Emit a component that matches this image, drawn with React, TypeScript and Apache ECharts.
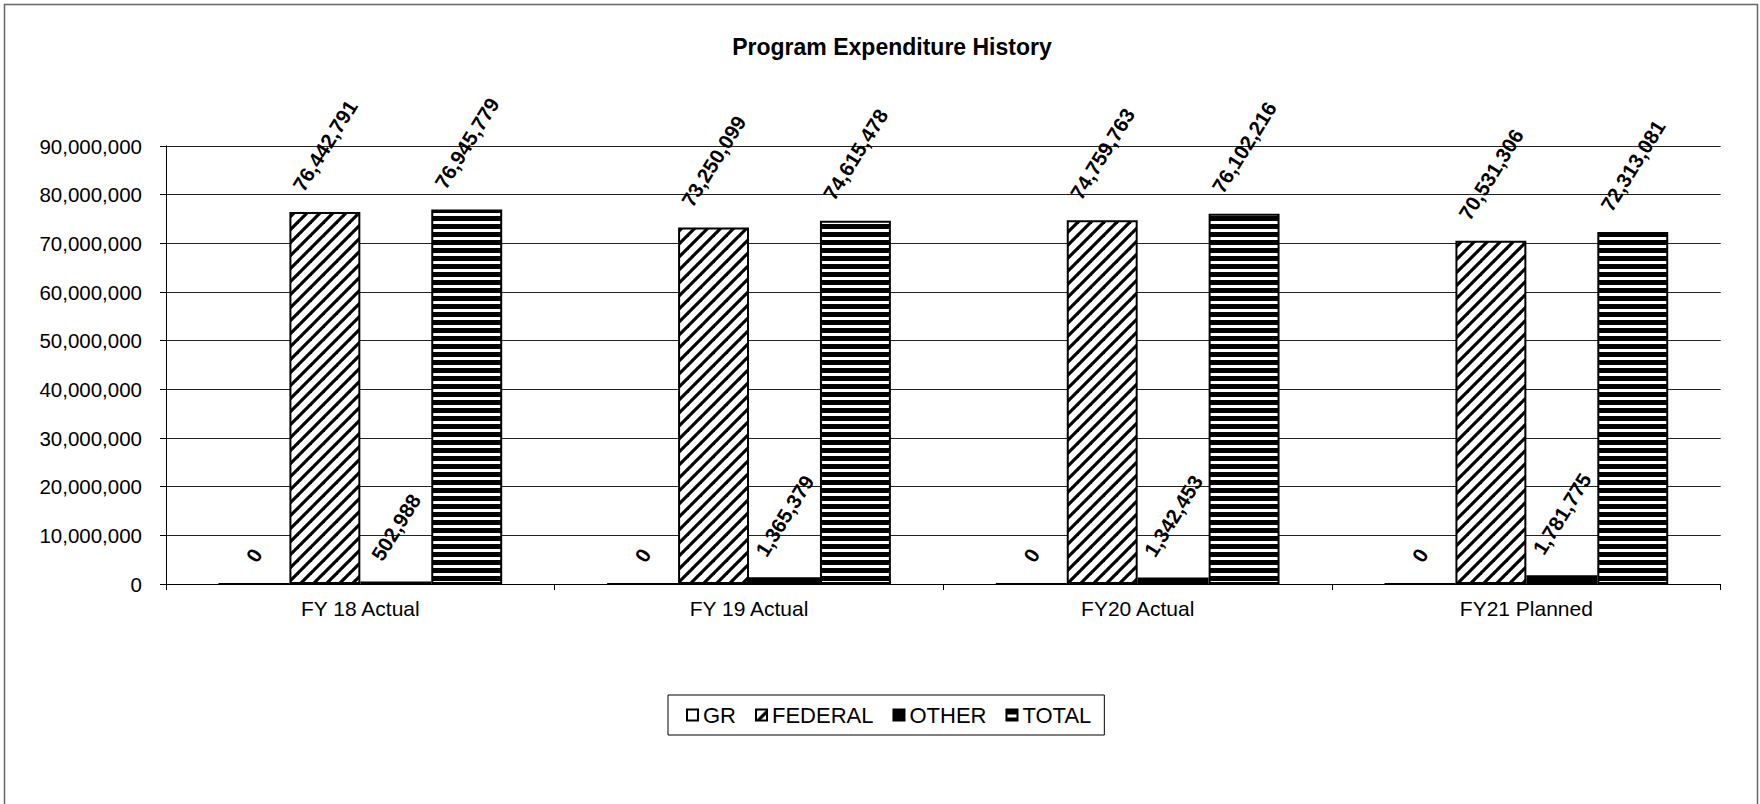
import React, { useEffect, useRef } from "react";
import * as echarts from "echarts";

const TITLE = "Program Expenditure History";
const categories = ["FY 18 Actual", "FY 19 Actual", "FY20 Actual", "FY21 Planned"];
const seriesNames = ["GR", "FEDERAL", "OTHER", "TOTAL"];
const grValues = [0, 0, 0, 0];
const federalValues = [76442791, 73250099, 74759763, 70531306];
const otherValues = [502988, 1365379, 1342453, 1781775];
const totalValues = [76945779, 74615478, 76102216, 72313081];
const yTicks = { min: 0, max: 90000000, interval: 10000000 };

const FONT = '"Liberation Sans", Arial, sans-serif';
const LABEL_ROTATE = 58;
const LABEL_FONT_SIZE = 20.5;

function fmt(v: number): string {
  return v.toLocaleString("en-US");
}

function makeDiagonal() {
  const s = 13;
  const c = document.createElement("canvas");
  c.width = s;
  c.height = s;
  const ctx = c.getContext("2d")!;
  ctx.fillStyle = "#fff";
  ctx.fillRect(0, 0, s, s);
  ctx.strokeStyle = "#000";
  ctx.lineWidth = 3.2;
  for (const off of [-s, 0, s]) {
    ctx.beginPath();
    ctx.moveTo(off - 2, s + 2);
    ctx.lineTo(off + s + 2, -2);
    ctx.stroke();
  }
  return { image: c, repeat: "repeat", imageWidth: s, imageHeight: s };
}

function makeStripes() {
  const w = 8;
  const h = 8;
  const c = document.createElement("canvas");
  c.width = w;
  c.height = h;
  const ctx = c.getContext("2d")!;
  ctx.fillStyle = "#fff";
  ctx.fillRect(0, 0, w, h);
  ctx.fillStyle = "#000";
  ctx.fillRect(0, 0, w, 5);
  return { image: c, repeat: "repeat", imageWidth: w, imageHeight: h };
}

export default function App() {
  const ref = useRef<HTMLDivElement>(null);

  useEffect(() => {
    if (!ref.current) return;
    const chart = echarts.init(ref.current, null, { renderer: "svg" });

    const mc = document.createElement("canvas").getContext("2d")!;
    mc.font = `bold ${LABEL_FONT_SIZE}px "Liberation Sans"`;
    const th = (LABEL_ROTATE * Math.PI) / 180;
    const withLabel = (vals: number[]) =>
      vals.map((v) => {
        const w = mc.measureText(fmt(v)).width;
        const bboxH = w * Math.sin(th) + 15 * Math.cos(th);
        return { value: v, label: { distance: 19 + bboxH / 2 } };
      });

    const label = {
      show: true,
      position: "top",
      rotate: LABEL_ROTATE,
      align: "center",
      verticalAlign: "middle",
      fontFamily: FONT,
      fontWeight: "bold",
      fontSize: LABEL_FONT_SIZE,
      color: "#000",
      formatter: (p: any) => fmt(p.value),
    };

    const diag = makeDiagonal();
    const stripes = makeStripes();
    const styles = [
      { color: "#fff", borderColor: "#000", borderWidth: 2 },
      { color: diag, borderColor: "#000", borderWidth: 2 },
      { color: "#000", borderColor: "#000", borderWidth: 2 },
      { color: stripes, borderColor: "#000", borderWidth: 2 },
    ];
    const values = [grValues, federalValues, otherValues, totalValues];

    chart.setOption({
      animation: false,
      backgroundColor: "#fff",
      title: {
        text: TITLE,
        left: 892,
        top: 35,
        padding: 0,
        textAlign: "center",
        textStyle: { fontFamily: FONT, fontWeight: "bold", fontSize: 23, color: "#000" },
      },
      graphic: [
        {
          type: "rect",
          shape: { x: 4.5, y: 4.5, width: 1753, height: 830 },
          style: { fill: "none", stroke: "#666", lineWidth: 1.5 },
          silent: true,
        },
      ],
      legend: {
        left: 668,
        top: 695,
        padding: [9, 13, 9, 18],
        borderColor: "#000",
        borderWidth: 1,
        itemWidth: 11,
        itemHeight: 11,
        itemGap: 19,
        icon: "rect",
        itemStyle: { borderColor: "#000", borderWidth: 2 },
        textStyle: { fontFamily: FONT, fontSize: 22, color: "#000" },
        data: seriesNames,
      },
      grid: { left: 166, right: 39.3, top: 146, bottom: 220, containLabel: false },
      xAxis: {
        type: "category",
        data: categories,
        axisLine: { lineStyle: { color: "#000", width: 1 } },
        axisTick: { show: true, length: 6, lineStyle: { color: "#000" } },
        axisLabel: { fontFamily: FONT, fontSize: 21, color: "#000", margin: 14 },
      },
      yAxis: {
        type: "value",
        min: yTicks.min,
        max: yTicks.max,
        interval: yTicks.interval,
        axisLine: { show: true, lineStyle: { color: "#000", width: 1 } },
        axisTick: { show: true, length: 6, lineStyle: { color: "#000" } },
        splitLine: { show: true, lineStyle: { color: "#222", width: 1 } },
        axisLabel: {
          fontFamily: FONT,
          fontSize: 20.5,
          color: "#000",
          margin: 24,
          formatter: (v: number) => fmt(v),
        },
      },
      series: seriesNames.map((name, i) => ({
        name,
        type: "bar",
        data: withLabel(values[i]),
        barGap: "0%",
        barCategoryGap: "27%",
        itemStyle: styles[i],
        label,
        emphasis: { disabled: true },
      })),
    });

    return () => chart.dispose();
  }, []);

  return (
    <div
      ref={ref}
      style={{ position: "fixed", left: 0, top: 0, width: 1760, height: 804, background: "#fff" }}
    />
  );
}
